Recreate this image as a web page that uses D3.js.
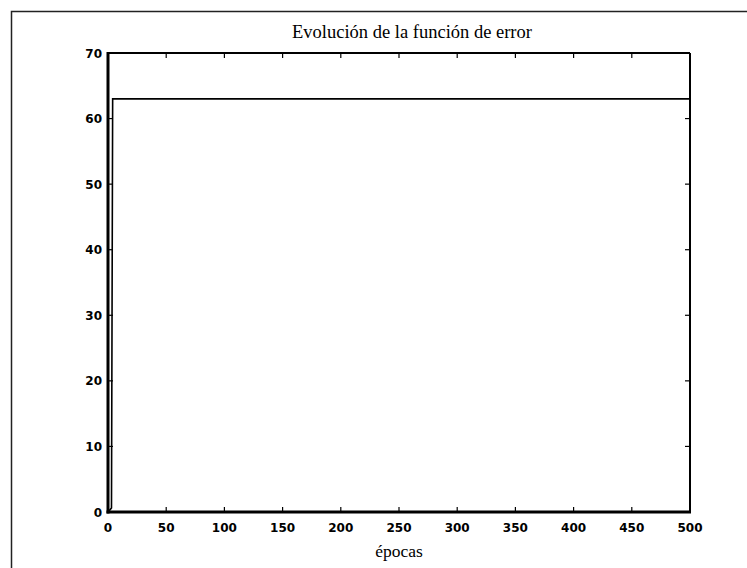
<!DOCTYPE html>
<html>
<head>
<meta charset="utf-8">
<script src="https://cdn.jsdelivr.net/npm/d3@7"></script>
<style>
  html, body { margin: 0; padding: 0; background: #fff; }
  svg { display: block; }
  .tick-label { font-family: "DejaVu Sans", sans-serif; font-weight: bold; font-size: 12px; fill: #000; }
  .caption { font-family: "Liberation Serif", "Times New Roman", serif; font-size: 17.5px; fill: #000; }
  .title { font-size: 18.5px; }
</style>
</head>
<body>
<svg id="chart" width="747" height="568"></svg>
<script>
// Error curve over training epochs
const epochs = [1, 2, 3, 4, 500];
const errorValues = [0.2, 0.4, 0.6, 63, 63];
const xTicks = [0, 50, 100, 150, 200, 250, 300, 350, 400, 450, 500];
const yTicks = [0, 10, 20, 30, 40, 50, 60, 70];
const titleText = "Evolución de la función de error";
const xLabelText = "épocas";

const svg = d3.select("#chart");
const plot = { left: 108, right: 690, top: 53, bottom: 512 };

const x = d3.scaleLinear().domain([0, 500]).range([plot.left, plot.right]);
const y = d3.scaleLinear().domain([0, 70]).range([plot.bottom, plot.top]);

// figure frame (runs off the right and bottom edges)
svg.append("rect")
  .attr("x", 11.5).attr("y", 11.5)
  .attr("width", 800).attr("height", 600)
  .attr("fill", "none").attr("stroke", "#222").attr("stroke-width", 1.5);

// plot box: thin top/right, heavy left/bottom
svg.append("line").attr("x1", plot.left).attr("x2", plot.right).attr("y1", plot.top).attr("y2", plot.top)
  .attr("stroke", "#000").attr("stroke-width", 2);
svg.append("line").attr("x1", plot.right).attr("x2", plot.right).attr("y1", plot.top).attr("y2", plot.bottom)
  .attr("stroke", "#000").attr("stroke-width", 2);

// inward ticks on all four sides
const tickLen = 5;
const g = svg.append("g").attr("stroke", "#000").attr("stroke-width", 1.2);
xTicks.forEach(t => {
  g.append("line").attr("x1", x(t)).attr("x2", x(t)).attr("y1", plot.bottom).attr("y2", plot.bottom - tickLen);
  g.append("line").attr("x1", x(t)).attr("x2", x(t)).attr("y1", plot.top).attr("y2", plot.top + tickLen);
});
yTicks.forEach(t => {
  g.append("line").attr("x1", plot.left).attr("x2", plot.left + tickLen).attr("y1", y(t)).attr("y2", y(t));
  g.append("line").attr("x1", plot.right).attr("x2", plot.right - tickLen).attr("y1", y(t)).attr("y2", y(t));
});

// data line
const line = d3.line().x((d, i) => x(epochs[i])).y(d => y(d));
svg.append("path")
  .datum(errorValues)
  .attr("d", line)
  .attr("fill", "none")
  .attr("stroke", "#000")
  .attr("stroke-width", 1.6);

// heavy left and bottom axis lines
svg.append("line").attr("x1", plot.left).attr("x2", plot.left).attr("y1", plot.top - 1).attr("y2", plot.bottom + 1.5)
  .attr("stroke", "#000").attr("stroke-width", 3);
svg.append("line").attr("x1", plot.left - 1.5).attr("x2", plot.right + 1).attr("y1", plot.bottom).attr("y2", plot.bottom)
  .attr("stroke", "#000").attr("stroke-width", 3);

// tick labels
svg.selectAll(".xl").data(xTicks).enter().append("text")
  .attr("class", "tick-label")
  .attr("x", d => x(d)).attr("y", plot.bottom + 20)
  .attr("text-anchor", "middle")
  .text(d => d);
svg.selectAll(".yl").data(yTicks).enter().append("text")
  .attr("class", "tick-label")
  .attr("x", plot.left - 6).attr("y", d => y(d) + 4.5)
  .attr("text-anchor", "end")
  .text(d => d);

// title and axis label
svg.append("text").attr("class", "caption title")
  .attr("x", (plot.left + plot.right) / 2 + 13).attr("y", 38)
  .attr("text-anchor", "middle").text(titleText);
svg.append("text").attr("class", "caption")
  .attr("x", (plot.left + plot.right) / 2).attr("y", 557)
  .attr("text-anchor", "middle").text(xLabelText);
</script>
</body>
</html>
